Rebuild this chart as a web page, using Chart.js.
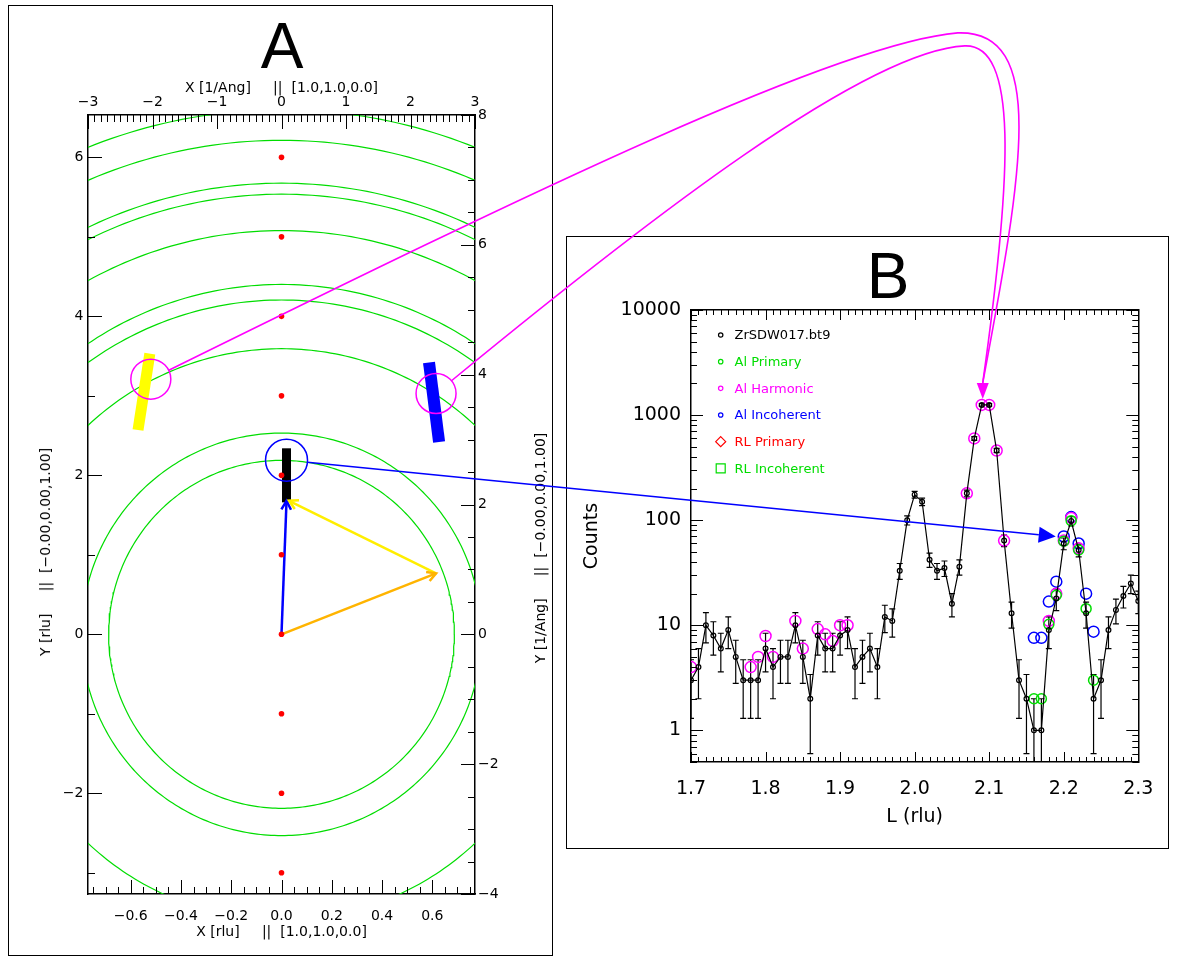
<!DOCTYPE html>
<html>
<head>
<meta charset="utf-8">
<script src="https://cdn.jsdelivr.net/npm/chart.js@4.4.1/dist/chart.umd.min.js"></script>
<style>
  html, body { margin: 0; padding: 0; background: #fff; }
  body { width: 1188px; height: 962px; position: relative; overflow: hidden; }
  .abs { position: absolute; }
  .frame { position: absolute; box-sizing: border-box; border: 1px solid #000; }
  .panelTitle { position: absolute; width: 200px; text-align: center; font: 64px/64px "Liberation Sans", Arial, sans-serif; color: #000; }
  .vtitle { position: absolute; white-space: pre; font: 14px "DejaVu Sans", sans-serif; color: #000;
            transform: translate(-50%, -50%) rotate(-90deg); }
  #overlay { position: absolute; left: 0; top: 0; pointer-events: none; }
</style>
</head>
<body>
<div class="frame" style="left:8px;top:5px;width:545px;height:951px"></div>
<div class="frame" style="left:566px;top:236px;width:603px;height:613px"></div>
<canvas id="chartA" class="abs" width="545" height="951" style="left:8px;top:5px"></canvas>
<canvas id="chartB" class="abs" width="603" height="613" style="left:566px;top:236px"></canvas>
<div class="panelTitle" style="left:182px;top:14px">A</div>
<div class="panelTitle" style="left:788px;top:244px">B</div>
<div class="vtitle" style="left:45px;top:552px">Y [rlu]     ||  [−0.00,0.00,1.00]</div>
<div class="vtitle" style="left:540px;top:548px">Y [1/Ang]     ||  [−0.00,0.00,1.00]</div>
<canvas id="overlay" width="1188" height="962"></canvas>
<script>
// ---------- panel A : reciprocal space map ----------
const ringQ = [2.68, 3.10, 4.40, 5.15, 5.39, 6.22, 6.78, 6.95, 7.61, 8.08]; // Al powder rings (1/Ang)
const braggH = [0, 0, 0, 0, 0, 0, 0, 0, 0, 0];
const braggL = [-3, -2, -1, 0, 1, 2, 3, 4, 5, 6];
const scanH = [0.02, 0.02];
const scanL = [1.66, 2.34];
const harmH = [-0.571, -0.524];
const harmL = [2.57, 3.53];
const incohH = [0.627, 0.587];
const incohL = [2.42, 3.42];
const qH = [0, 0.02];
const qL = [0, 1.68];
const kiH = [0, 0.615];
const kiL = [0, 0.767];
const kfH = [0.615, 0.03];
const kfL = [0.767, 1.68];
const markH = [-0.52, 0.615];   // magenta rings
const markL = [3.21, 3.03];
const scanMarkH = [0.02];       // blue ring
const scanMarkL = [2.19];

const xrTicks = [-0.6, -0.4, -0.2, 0, 0.2, 0.4, 0.6];
const xaTicks = [-3, -2, -1, 0, 1, 2, 3];
const yrTicks = [-2, 0, 2, 4, 6];
const yaTicks = [-4, -2, 0, 2, 4, 6, 8];

// ---------- panel B : L scan ----------
const scanLvals = [1.70, 1.71, 1.72, 1.73, 1.74, 1.75, 1.76, 1.77, 1.78, 1.79,
  1.80, 1.81, 1.82, 1.83, 1.84, 1.85, 1.86, 1.87, 1.88, 1.89,
  1.90, 1.91, 1.92, 1.93, 1.94, 1.95, 1.96, 1.97, 1.98, 1.99,
  2.00, 2.01, 2.02, 2.03, 2.04, 2.05, 2.06, 2.07, 2.08, 2.09,
  2.10, 2.11, 2.12, 2.13, 2.14, 2.15, 2.16, 2.17, 2.18, 2.19,
  2.20, 2.21, 2.22, 2.23, 2.24, 2.25, 2.26, 2.27, 2.28, 2.29, 2.30];
const counts = [3, 4, 10, 8, 6, 9, 5, 3, 3, 3,
  6, 4, 5, 5, 10, 5, 2, 8, 6, 6,
  8, 9, 4, 5, 6, 4, 12, 11, 33, 100,
  175, 150, 42, 33, 35, 16, 36, 180, 600, 1250,
  1250, 460, 64, 13, 3, 2, 1, 1, 9, 18,
  60, 98, 52, 13, 2, 3, 9, 14, 19, 25, 17];
const countErr = [1.7, 2, 3.2, 2.8, 2.4, 3, 2.2, 1.7, 1.7, 1.7,
  2.4, 2, 2.2, 2.2, 3.2, 2.2, 1.4, 2.8, 2.4, 2.4,
  2.8, 3, 2, 2.2, 2.4, 2, 3.5, 3.3, 5.7, 10,
  13.2, 12.2, 6.5, 5.7, 5.9, 4, 6, 13.4, 24.5, 35.4,
  35.4, 21.4, 8, 3.6, 1.7, 1.4, 1, 1, 3, 4.2,
  7.7, 9.9, 7.2, 3.6, 1.4, 1.7, 3, 3.7, 4.4, 5, 4.1];
const primaryL = [2.16, 2.17, 2.18, 2.19, 2.20, 2.21, 2.22, 2.23, 2.24];
const primaryCounts = [2, 2, 10.2, 19.3, 63, 99, 52, 14.4, 3];
const harmonicL = [1.70, 1.78, 1.79, 1.80, 1.81, 1.84, 1.85, 1.87, 1.88, 1.89, 1.90, 1.91,
  2.07, 2.08, 2.09, 2.10, 2.11, 2.12, 2.18, 2.19, 2.20, 2.21, 2.22];
const harmonicCounts = [4, 4, 5, 7.9, 5, 11, 6, 9.2, 8.2, 7.1, 10, 10,
  180, 600, 1250, 1250, 460, 64, 11, 20, 64, 105, 54];
const incoherentL = [2.16, 2.17, 2.18, 2.19, 2.20, 2.21, 2.22, 2.23, 2.24];
const incoherentCounts = [7.6, 7.6, 16.8, 26, 70, 107, 60, 20, 8.7];
const rlPrimaryL = [];
const rlPrimaryCounts = [];
const rlIncoherentL = [];
const rlIncoherentCounts = [];
const seriesNames = ['ZrSDW017.bt9', 'Al Primary', 'Al Harmonic', 'Al Incoherent', 'RL Primary', 'RL Incoherent'];
const lTicks = [1.7, 1.8, 1.9, 2.0, 2.1, 2.2, 2.3];
const countTicks = [1, 10, 100, 1000, 10000];

// ---------- helpers ----------
function pts(xs, ys) { return xs.map((x, i) => ({ x: x, y: ys[i] })); }
function ringPoints(q) {
  const out = [];
  for (let deg = 0; deg <= 360; deg++) {
    const t = deg * Math.PI / 180;
    out.push({ x: q * Math.cos(t), y: q * Math.sin(t) });
  }
  return out;
}
function steps(a, b, st, skip) {
  const out = [];
  const n = Math.round((b - a) / st);
  for (let i = 0; i <= n; i++) {
    const v = +(a + i * st).toFixed(6);
    if (!skip(v)) out.push(v);
  }
  return out;
}
function isMult(v, m) { return Math.abs(v / m - Math.round(v / m)) < 1e-6; }
function fmt(v, d) { return (v < -1e-9 ? '\u2212' : '') + Math.abs(v).toFixed(d); }
function fixedTicks(vals) { return function (scale) { scale.ticks = vals.map(v => ({ value: v })); }; }
function font(size) { return { family: 'DejaVu Sans', size: size }; }

// inward IDL style tick marks
const idlTicks = {
  id: 'idlTicks',
  afterDraw(chart, args, opts) {
    const ctx = chart.ctx, a = chart.chartArea;
    ctx.save();
    ctx.strokeStyle = '#000';
    ctx.lineWidth = 1;
    opts.axes.forEach(ax => {
      const s = chart.scales[ax.id];
      const mark = (v, len) => {
        const p = Math.round(s.getPixelForValue(v)) + 0.5;
        ctx.beginPath();
        if (s.position === 'bottom') { ctx.moveTo(p, a.bottom); ctx.lineTo(p, a.bottom - len); }
        else if (s.position === 'top') { ctx.moveTo(p, a.top); ctx.lineTo(p, a.top + len); }
        else if (s.position === 'left') { ctx.moveTo(a.left, p); ctx.lineTo(a.left + len, p); }
        else { ctx.moveTo(a.right, p); ctx.lineTo(a.right - len, p); }
        ctx.stroke();
      };
      s.ticks.forEach(t => mark(t.value, ax.major));
      ax.minorValues.forEach(v => mark(v, ax.minor));
    });
    ctx.restore();
  }
};

// open arrow heads at the end of vector datasets
const arrowHeads = {
  id: 'arrowHeads',
  afterDatasetsDraw(chart) {
    const ctx = chart.ctx;
    chart.data.datasets.forEach((ds, i) => {
      if (!ds.arrowHead) return;
      const d = chart.getDatasetMeta(i).data;
      const p1 = d[d.length - 2], p2 = d[d.length - 1];
      const ang = Math.atan2(p2.y - p1.y, p2.x - p1.x);
      const len = 10;
      ctx.save();
      ctx.strokeStyle = ds.borderColor;
      ctx.lineWidth = ds.borderWidth;
      ctx.beginPath();
      ctx.moveTo(p2.x - len * Math.cos(ang - 0.5), p2.y - len * Math.sin(ang - 0.5));
      ctx.lineTo(p2.x, p2.y);
      ctx.lineTo(p2.x - len * Math.cos(ang + 0.5), p2.y - len * Math.sin(ang + 0.5));
      ctx.stroke();
      ctx.restore();
    });
  }
};

// vertical error bars with caps
const errorBars = {
  id: 'errorBars',
  beforeDatasetsDraw(chart) {
    const ctx = chart.ctx, a = chart.chartArea, ys = chart.scales.y;
    chart.data.datasets.forEach((ds, i) => {
      if (!ds.errors) return;
      const meta = chart.getDatasetMeta(i);
      ctx.save();
      ctx.beginPath();
      ctx.rect(a.left, a.top, a.width, a.height);
      ctx.clip();
      ctx.strokeStyle = '#000';
      ctx.lineWidth = 1.2;
      meta.data.forEach((pt, j) => {
        const v = ds.data[j].y, e = ds.errors[j];
        const top = ys.getPixelForValue(v + e);
        const lo = v - e;
        const bot = lo > 0 ? ys.getPixelForValue(lo) : a.bottom + 5;
        ctx.beginPath();
        ctx.moveTo(pt.x, top); ctx.lineTo(pt.x, bot);
        ctx.moveTo(pt.x - 3, top); ctx.lineTo(pt.x + 3, top);
        if (lo > 0) { ctx.moveTo(pt.x - 3, bot); ctx.lineTo(pt.x + 3, bot); }
        ctx.stroke();
      });
      ctx.restore();
    });
  }
};

// legend drawn inside the plot, IDL style
const idlLegend = {
  id: 'idlLegend',
  afterDraw(chart, args, o) {
    const ctx = chart.ctx, a = chart.chartArea;
    ctx.save();
    ctx.font = '13px "DejaVu Sans"';
    ctx.textBaseline = 'middle';
    chart.data.datasets.forEach((ds, i) => {
      const y = a.top + o.dy + i * o.step;
      const x = a.left + o.dx;
      ctx.strokeStyle = ds.borderColor;
      ctx.fillStyle = ds.borderColor;
      ctx.lineWidth = 1.2;
      ctx.beginPath();
      if (ds.legendSymbol === 'diamond') {
        ctx.moveTo(x, y - 5); ctx.lineTo(x + 5, y); ctx.lineTo(x, y + 5); ctx.lineTo(x - 5, y); ctx.closePath();
      } else if (ds.legendSymbol === 'square') {
        ctx.rect(x - 4.5, y - 4.5, 9, 9);
      } else {
        ctx.arc(x, y, 2.2, 0, Math.PI * 2);
      }
      ctx.stroke();
      ctx.fillText(ds.label, a.left + o.textDx, y + 1);
    });
    ctx.restore();
  }
};

Chart.defaults.font.family = 'DejaVu Sans';
Chart.defaults.color = '#000';

const GREEN = '#00dd00';

function axisA(pos, min, max, ticks, digits, size, pad, title, tpad) {
  const ax = {
    type: 'linear', position: pos, min: min, max: max,
    afterBuildTicks: fixedTicks(ticks),
    grid: { display: false, drawTicks: false, tickLength: 0 },
    border: { display: true, color: '#000', width: 1.5 },
    ticks: { color: '#000', font: font(14), padding: pad, maxRotation: 0, autoSkip: false,
             callback: v => fmt(v, digits) },
    title: { display: !!title, text: title, color: '#000', font: font(14), padding: tpad }
  };
  if (pos === 'top' || pos === 'bottom') ax.afterFit = s => { s.height = size; };
  else ax.afterFit = s => { s.width = size; };
  return ax;
}

const ringSets = ringQ.map(q => ({
  data: ringPoints(q), xAxisID: 'xa', yAxisID: 'ya', showLine: true,
  borderColor: GREEN, borderWidth: 1.2, pointRadius: 0, order: 5
}));

const chartA = new Chart(document.getElementById('chartA'), {
  type: 'scatter',
  data: {
    datasets: [
      { data: pts(markH, markL), xAxisID: 'xr', yAxisID: 'yr', pointRadius: 20, pointBorderWidth: 1.5,
        borderColor: '#ff00ff', pointBackgroundColor: 'rgba(0,0,0,0)', order: 0 },
      { data: pts(scanMarkH, scanMarkL), xAxisID: 'xr', yAxisID: 'yr', pointRadius: 21, pointBorderWidth: 1.5,
        borderColor: '#0000ff', pointBackgroundColor: 'rgba(0,0,0,0)', order: 0 },
      { data: pts(braggH, braggL), xAxisID: 'xr', yAxisID: 'yr', pointRadius: 2.8, pointBorderWidth: 0,
        pointBackgroundColor: '#ff0000', borderColor: '#ff0000', order: 1 },
      { data: pts(qH, qL), xAxisID: 'xr', yAxisID: 'yr', showLine: true, borderColor: '#0000ff',
        borderWidth: 2.5, pointRadius: 0, arrowHead: true, order: 2 },
      { data: pts(kiH, kiL), xAxisID: 'xr', yAxisID: 'yr', showLine: true, borderColor: '#ffb400',
        borderWidth: 2.5, pointRadius: 0, arrowHead: true, order: 2 },
      { data: pts(kfH, kfL), xAxisID: 'xr', yAxisID: 'yr', showLine: true, borderColor: '#ffee00',
        borderWidth: 2.5, pointRadius: 0, arrowHead: true, order: 2 },
      { data: pts(scanH, scanL), xAxisID: 'xr', yAxisID: 'yr', showLine: true, borderColor: '#000',
        borderWidth: 9, borderCapStyle: 'butt', pointRadius: 0, order: 3 },
      { data: pts(harmH, harmL), xAxisID: 'xr', yAxisID: 'yr', showLine: true, borderColor: '#ffff00',
        borderWidth: 11, borderCapStyle: 'butt', pointRadius: 0, order: 3 },
      { data: pts(incohH, incohL), xAxisID: 'xr', yAxisID: 'yr', showLine: true, borderColor: '#0000ff',
        borderWidth: 12, borderCapStyle: 'butt', pointRadius: 0, order: 3 }
    ].concat(ringSets)
  },
  options: {
    responsive: false, animation: false, events: [],
    layout: { padding: 0 },
    plugins: {
      legend: { display: false }, tooltip: { enabled: false },
      idlTicks: { axes: [
        { id: 'xr', major: 14, minor: 7, minorValues: steps(-0.75, 0.75, 0.05, v => isMult(v, 0.2)) },
        { id: 'xa', major: 14, minor: 7, minorValues: steps(-3, 3, 0.1, v => isMult(v, 1)) },
        { id: 'yr', major: 14, minor: 7, minorValues: steps(-3, 6, 1, v => isMult(v, 2)) },
        { id: 'ya', major: 14, minor: 7, minorValues: steps(-4, 8, 0.5, v => isMult(v, 2)) }
      ] }
    },
    scales: {
      xr: axisA('bottom', -0.770, 0.770, xrTicks, 1, 62, 13.7, 'X [rlu]     ||  [1.0,1.0,0.0]', { top: 0, bottom: 15 }),
      xa: axisA('top', -3, 3, xaTicks, 0, 110, 3.8, 'X [1/Ang]     ||  [1.0,1.0,0.0]', { top: 75, bottom: 0 }),
      yr: axisA('left', -3.267, 6.533, yrTicks, 0, 80, 4.5, '', 0),
      ya: axisA('right', -4, 8, yaTicks, 0, 78, 3, '', 0)
    }
  },
  plugins: [idlTicks, arrowHeads]
});

function axisB(pos, type, min, max, ticks, size, show, pad, cb, title, tpad) {
  const ax = {
    type: type, position: pos, min: min, max: max,
    afterBuildTicks: fixedTicks(ticks),
    grid: { display: false, drawTicks: false, tickLength: 0 },
    border: { display: true, color: '#000', width: 1.5 },
    ticks: { display: show, color: '#000', font: font(19), padding: pad, maxRotation: 0, autoSkip: false, callback: cb },
    title: { display: !!title, text: title, color: '#000', font: font(19), padding: tpad }
  };
  if (pos === 'top' || pos === 'bottom') ax.afterFit = s => { s.height = size; };
  else ax.afterFit = s => { s.width = size; };
  return ax;
}

const decadeMinor = steps(0.5, 0.9, 0.1, () => false)
  .concat(...[1, 10, 100, 1000].map(d => [2, 3, 4, 5, 6, 7, 8, 9].map(m => m * d)));

const chartB = new Chart(document.getElementById('chartB'), {
  type: 'scatter',
  data: {
    datasets: [
      { label: seriesNames[0], data: pts(scanLvals, counts), errors: countErr, showLine: true,
        borderColor: '#000', borderWidth: 1.2, pointRadius: 2.4, pointBorderWidth: 1.2,
        pointBackgroundColor: 'rgba(0,0,0,0)', legendSymbol: 'dot' },
      { label: seriesNames[1], data: pts(primaryL, primaryCounts), borderColor: GREEN,
        pointRadius: 5, pointBorderWidth: 1.5, pointBackgroundColor: 'rgba(0,0,0,0)', legendSymbol: 'dot' },
      { label: seriesNames[2], data: pts(harmonicL, harmonicCounts), borderColor: '#ff00ff',
        pointRadius: 5.5, pointBorderWidth: 1.5, pointBackgroundColor: 'rgba(0,0,0,0)', legendSymbol: 'dot' },
      { label: seriesNames[3], data: pts(incoherentL, incoherentCounts), borderColor: '#0000ff',
        pointRadius: 5.5, pointBorderWidth: 1.5, pointBackgroundColor: 'rgba(0,0,0,0)', legendSymbol: 'dot' },
      { label: seriesNames[4], data: pts(rlPrimaryL, rlPrimaryCounts), borderColor: '#ff0000',
        pointStyle: 'rectRot', pointRadius: 6, pointBackgroundColor: 'rgba(0,0,0,0)', legendSymbol: 'diamond' },
      { label: seriesNames[5], data: pts(rlIncoherentL, rlIncoherentCounts), borderColor: GREEN,
        pointStyle: 'rect', pointRadius: 6, pointBackgroundColor: 'rgba(0,0,0,0)', legendSymbol: 'square' }
    ]
  },
  options: {
    responsive: false, animation: false, events: [],
    layout: { padding: 0 },
    plugins: {
      legend: { display: false }, tooltip: { enabled: false },
      idlLegend: { dx: 29.7, textDx: 43.5, dy: 25, step: 26.67 },
      idlTicks: { axes: [
        { id: 'x', major: 10, minor: 5, minorValues: steps(1.7, 2.3, 0.01, v => isMult(v, 0.1)) },
        { id: 'x2', major: 10, minor: 5, minorValues: steps(1.7, 2.3, 0.01, v => isMult(v, 0.1)) },
        { id: 'y', major: 12, minor: 6, minorValues: decadeMinor },
        { id: 'y2', major: 12, minor: 6, minorValues: decadeMinor }
      ] }
    },
    scales: {
      x: axisB('bottom', 'linear', 1.7, 2.3, lTicks, 87, true, 15.6, v => v.toFixed(1), 'L (rlu)', { top: 0, bottom: 21 }),
      x2: axisB('top', 'linear', 1.7, 2.3, lTicks, 74, false, 0, v => '', '', 0),
      y: axisB('left', 'logarithmic', 0.5, 10000, countTicks, 125, true, 10, v => String(v), 'Counts', { top: 14.6, bottom: 0 }),
      y2: axisB('right', 'logarithmic', 0.5, 10000, countTicks, 28, false, 0, v => '', '', 0)
    }
  },
  plugins: [idlTicks, errorBars, idlLegend]
});

// ---------- connectors between the panels ----------
function toPage(chart, xId, yId, x, y) {
  return { x: chart.canvas.offsetLeft + chart.scales[xId].getPixelForValue(x),
           y: chart.canvas.offsetTop + chart.scales[yId].getPixelForValue(y) };
}
function off(p, d) { return { x: p.x + d[0], y: p.y + d[1] }; }

function drawConnectors() {
  const c = document.getElementById('overlay').getContext('2d');
  const ringR = chartA.data.datasets[0].pointRadius;

  // magenta: harmonic positions -> harmonic peak
  const pk = harmonicL.indexOf(2.09);
  const peak = toPage(chartB, 'x', 'y', harmonicL[pk], harmonicCounts[pk]);
  const tip = { x: peak.x + 1, y: peak.y - 6 };
  const base = { x: tip.x, y: tip.y - 16 };
  // bend points relative to the arrow base: [c1a, c2a, top, c1b, c2b]
  const paths = [
    [0, [-456, -189], [-145, -340], [-25, -350], [65, -353], [40, -213]],
    [1, [-338, -161], [-118, -332], [-18, -337], [35, -339], [30, -213]]
  ];
  c.strokeStyle = '#ff00ff';
  c.lineWidth = 1.6;
  paths.forEach(([k, a1, a2, pt, b1, b2]) => {
    const ctr = toPage(chartA, 'xr', 'yr', markH[k], markL[k]);
    const c1 = off(base, a1), c2 = off(base, a2), top = off(base, pt);
    const d1 = off(base, b1), d2 = off(base, b2);
    const ang = Math.atan2(c1.y - ctr.y, c1.x - ctr.x);
    const s = { x: ctr.x + ringR * Math.cos(ang), y: ctr.y + ringR * Math.sin(ang) };
    c.beginPath();
    c.moveTo(s.x, s.y);
    c.bezierCurveTo(c1.x, c1.y, c2.x, c2.y, top.x, top.y);
    c.bezierCurveTo(d1.x, d1.y, d2.x, d2.y, base.x, base.y);
    c.stroke();
  });
  c.fillStyle = '#ff00ff';
  c.beginPath();
  c.moveTo(tip.x, tip.y);
  c.lineTo(base.x - 6, base.y);
  c.lineTo(base.x + 6, base.y);
  c.closePath();
  c.fill();

  // blue: scan position -> incoherent peak
  const ib = incoherentL.indexOf(2.20);
  const bp = toPage(chartB, 'x', 'y', incoherentL[ib], incoherentCounts[ib]);
  const btip = { x: bp.x - 8, y: bp.y };
  const bc = toPage(chartA, 'xr', 'yr', scanMarkH[0], scanMarkL[0]);
  const br = chartA.data.datasets[1].pointRadius;
  const ang = Math.atan2(btip.y - bc.y, btip.x - bc.x);
  const cs = Math.cos(ang), sn = Math.sin(ang);
  const bs = { x: bc.x + br * cs, y: bc.y + br * sn };
  const bb = { x: btip.x - 17 * cs, y: btip.y - 17 * sn };
  c.strokeStyle = '#0000ff';
  c.fillStyle = '#0000ff';
  c.lineWidth = 1.6;
  c.beginPath();
  c.moveTo(bs.x, bs.y);
  c.lineTo(bb.x, bb.y);
  c.stroke();
  c.beginPath();
  c.moveTo(btip.x, btip.y);
  c.lineTo(bb.x - 8 * sn, bb.y + 8 * cs);
  c.lineTo(bb.x + 8 * sn, bb.y - 8 * cs);
  c.closePath();
  c.fill();
}
drawConnectors();
</script>
</body>
</html>
